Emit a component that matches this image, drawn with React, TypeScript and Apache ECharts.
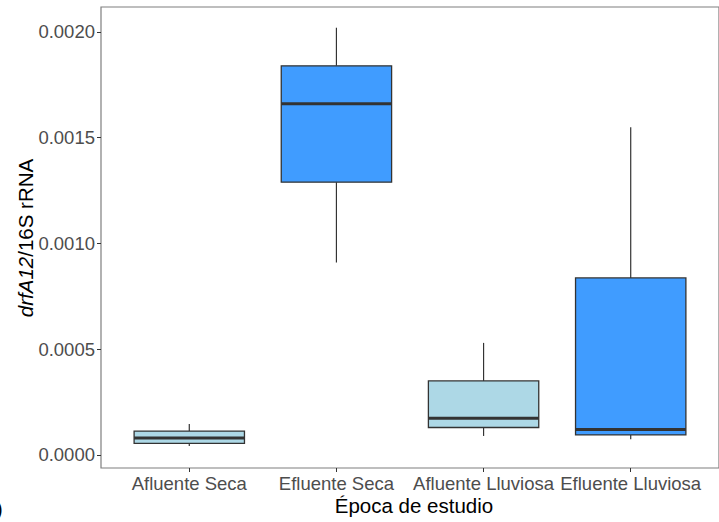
import React, { useEffect, useRef } from "react";
import * as echarts from "echarts";

const categories = ["Afluente Seca", "Efluente Seca", "Afluente Lluviosa", "Efluente Lluviosa"];
const mins = [0.0000425, 0.00091, 0.00009, 0.000074];
const q1s = [0.000055, 0.00129, 0.00013, 0.000095];
const medians = [0.00008, 0.00166, 0.000174, 0.000121];
const q3s = [0.000113, 0.00184, 0.00035, 0.000837];
const maxs = [0.000147, 0.00202, 0.00053, 0.00155];
const fills = ["#ADD8E6", "#409CFF", "#ADD8E6", "#409CFF"];
const yTicks = [0, 0.0005, 0.001, 0.0015, 0.002];
const xTicks = [0, 1, 2, 3];

const FONT = "Arial, 'Liberation Sans', sans-serif";

export default function App() {
  const ref = useRef<HTMLDivElement>(null);
  useEffect(() => {
    if (!ref.current) return;
    const chart = echarts.init(ref.current, null, { renderer: "svg" });
    const data = categories.map((_, i) => [i, mins[i], q1s[i], medians[i], q3s[i], maxs[i]]);
    chart.setOption({
      animation: false,
      backgroundColor: "#FFFFFF",
      grid: {
        left: 101,
        top: 7,
        right: -6,
        bottom: 54,
        show: true,
        borderColor: "#7F7F7F",
        borderWidth: 1.2,
        backgroundColor: "transparent",
      },
      xAxis: {
        type: "value",
        min: -0.6,
        max: 3.6,
        splitLine: { show: false },
        axisLine: { show: false, onZero: false },
        axisTick: {
          show: true,
          customValues: xTicks,
          length: 4,
          lineStyle: { color: "#333333", width: 1 },
        },
        axisLabel: {
          customValues: xTicks,
          formatter: (v: number) => categories[Math.round(v)],
          fontFamily: FONT,
          fontSize: 18.5,
          color: "#4D4D4D",
          margin: 6,
        },
      },
      yAxis: {
        type: "value",
        min: -0.0000615,
        max: 0.002118,
        splitLine: { show: false },
        axisLine: { show: false, onZero: false },
        axisTick: {
          show: true,
          customValues: yTicks,
          length: 4,
          lineStyle: { color: "#333333", width: 1 },
        },
        axisLabel: {
          customValues: yTicks,
          formatter: (v: number) => v.toFixed(4),
          fontFamily: FONT,
          fontSize: 18.5,
          color: "#4D4D4D",
          margin: 6,
        },
      },
      graphic: [
        {
          type: "text",
          x: 25,
          y: 238,
          rotation: Math.PI / 2,
          style: {
            text: "{i|drfA12}{n|/16S rRNA}",
            rich: {
              i: { fontStyle: "italic", fontFamily: FONT, fontSize: 20.5, fill: "#000" },
              n: { fontFamily: FONT, fontSize: 20.5, fill: "#000" },
            },
            align: "center",
            verticalAlign: "middle",
          },
        },
        {
          type: "text",
          x: 414,
          y: 505,
          style: {
            text: "Época de estudio",
            fontFamily: FONT,
            fontSize: 20.5,
            fill: "#000",
            align: "center",
            verticalAlign: "middle",
          },
        },
        {
          type: "text",
          x: -4,
          y: 509,
          style: {
            text: ")",
            fontFamily: FONT,
            fontSize: 20,
            fill: "#000",
            align: "left",
            verticalAlign: "middle",
          },
        },
      ],
      series: [
        {
          type: "custom",
          data,
          encode: { x: 0, y: [1, 2, 3, 4, 5] },
          renderItem: (params: any, api: any) => {
            const i = api.value(0);
            const half = 0.375;
            const pMin = api.coord([i, api.value(1)]);
            const pQ1 = api.coord([i, api.value(2)]);
            const pMed = api.coord([i, api.value(3)]);
            const pQ3 = api.coord([i, api.value(4)]);
            const pMax = api.coord([i, api.value(5)]);
            const left = api.coord([i - half, api.value(2)])[0];
            const right = api.coord([i + half, api.value(2)])[0];
            const stroke = "#333333";
            return {
              type: "group",
              children: [
                {
                  type: "line",
                  shape: { x1: pMax[0], y1: pMax[1], x2: pQ3[0], y2: pQ3[1] },
                  style: { stroke, lineWidth: 1.2 },
                },
                {
                  type: "line",
                  shape: { x1: pQ1[0], y1: pQ1[1], x2: pMin[0], y2: pMin[1] },
                  style: { stroke, lineWidth: 1.2 },
                },
                {
                  type: "rect",
                  shape: { x: left, y: pQ3[1], width: right - left, height: pQ1[1] - pQ3[1] },
                  style: { fill: fills[i], stroke, lineWidth: 1.3 },
                },
                {
                  type: "line",
                  shape: { x1: left, y1: pMed[1], x2: right, y2: pMed[1] },
                  style: { stroke, lineWidth: 3 },
                },
              ],
            };
          },
        },
      ],
    });
    return () => chart.dispose();
  }, []);
  return (
    <div
      ref={ref}
      style={{ position: "fixed", left: 0, top: 0, width: 719, height: 522, background: "#fff" }}
    />
  );
}
